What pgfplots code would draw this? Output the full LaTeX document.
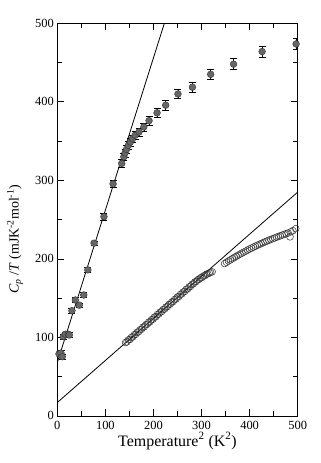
\documentclass[border=0pt]{standalone}
\usepackage{fontspec}
\setmainfont{Liberation Serif}
\usepackage{pgfplots}
\pgfplotsset{compat=1.18}

\begin{document}
\begin{tikzpicture}
\begin{axis}[
  at={(0,0)}, anchor=south west,
  scale only axis,
  width=240.4bp, height=392.6bp,
  xmin=0, xmax=500, ymin=0, ymax=500,
  xtick={0,100,...,500}, ytick={0,100,...,500},
  minor tick num=1,
  major tick length=7bp, minor tick length=4.5bp,
  tick style={black, line width=0.7bp},
  axis line style={line width=0.8bp},
  /pgf/number format/assume math mode=true,
  tick label style={font=\fontsize{12.5}{13}\selectfont},
  xticklabel style={yshift=-1.5bp},
  xlabel={Temperature\textsuperscript{2} (K\textsuperscript{2})},
  ylabel={\textit{C}\textsubscript{\textit{p}} /\textit{T} (mJK\textsuperscript{-2}mol\textsuperscript{-1})},
  xlabel style={font=\fontsize{16}{17}\selectfont, at={(axis description cs:0.5,0)}, anchor=center, yshift=-25bp},
  ylabel style={font=\fontsize{14}{15}\selectfont, at={(axis description cs:-0.176,0.45)}, anchor=center},
]
% linear fits
\addplot[black, line width=0.8bp] coordinates {(0,68) (240,533.6)};
\addplot[black, line width=0.8bp] coordinates {(0,17) (500,285)};

% open circles
\addplot[only marks, mark=o, mark size=3.4bp, mark options={draw=black!80, line width=0.5bp, fill=none}] coordinates {
(142,93.5) (145,94.3) (148,96.9) (151,97.4) (154,100.0) (157,100.6) (160,103.3) (163,103.8)
(166,106.5) (169,107.0) (172,109.7) (175,110.3) (178,112.9) (181,113.5) (184,116.1) (187,116.7)
(190,119.3) (193,119.9) (196,122.5) (199,123.1) (202,125.8) (205,126.3) (208,129.0) (211,129.6)
(214,132.2) (217,132.8) (220,135.4) (223,136.0) (226,138.6) (229,139.2) (232,141.8) (235,142.4)
(238,145.0) (241,145.6) (244,148.2) (247,148.9) (250,151.5) (253,152.1) (256,154.7) (259,155.3)
(262,157.9) (265,158.5) (268,161.1) (271,161.7) (274,164.3) (277,164.9) (280,167.5) (283,168.2)
(286,170.6) (289,171.2) (292,173.4) (295,174.0) (298,175.9) (301,176.3) (304,178.2) (307,178.8)
(310,180.4) (313,180.9) (316,182.1) (319,182.6) (322,183.5)
(348,194.0) (352,195.6) (356,197.2) (360,198.7) (364,200.2) (368,201.7) (372,203.1) (376,204.5)
(380,205.9) (384,207.3) (388,208.6) (392,209.9) (396,211.2) (400,212.5) (404,213.7) (408,214.9)
(412,216.1) (416,217.3) (420,218.4) (424,219.5) (428,220.6) (432,221.7) (436,222.7) (440,223.7)
(444,224.7) (448,225.7) (452,226.6) (456,227.6) (460,228.5) (464,229.4) (468,230.3) (472,231.2)
(476,232.0) (480,233.0) (484,228.0) (486,234.5) (490,236.0) (496,238.5)
};

% filled circles with error bars
\addplot[only marks, mark=*, mark size=3.4bp,
  mark options={fill=black!60, draw=black!80, line width=0.4bp},
  error bars/.cd, y dir=both, y explicit,
  error bar style={black, line width=0.5bp},
  error mark options={rotate=90, mark size=3.5bp, black, line width=0.5bp}]
  table[x=x, y=y, y error=e] {
x y e
3.5 79 3
7.7 80 3
10.4 75.4 3
12.5 101 3
16.6 104 3
23 104 3
25 103 3
30.5 134 3
37.5 147.6 3
45.7 141 3
55 154 3
63.5 186 3
76.5 220 3
97 253.7 4
116 295.5 4
134 321.6 5
138.4 330 5
141 335 5
144 339.5 5
148 344.6 5
152 348.8 5
156.4 353 5
161.8 357.4 5
170 361.6 5
180 368 5
190.8 376 6
207.5 386 6
225.5 395.7 6
251 410 6
281 418.6 6
319 435 6
366.6 448 7
426 464 7
496.7 473.7 7
};
\end{axis}
\pgfresetboundingbox
\path[use as bounding box] (-57.3bp,-47.1bp) rectangle (263.7bp,415.9bp);
\end{tikzpicture}
\end{document}
